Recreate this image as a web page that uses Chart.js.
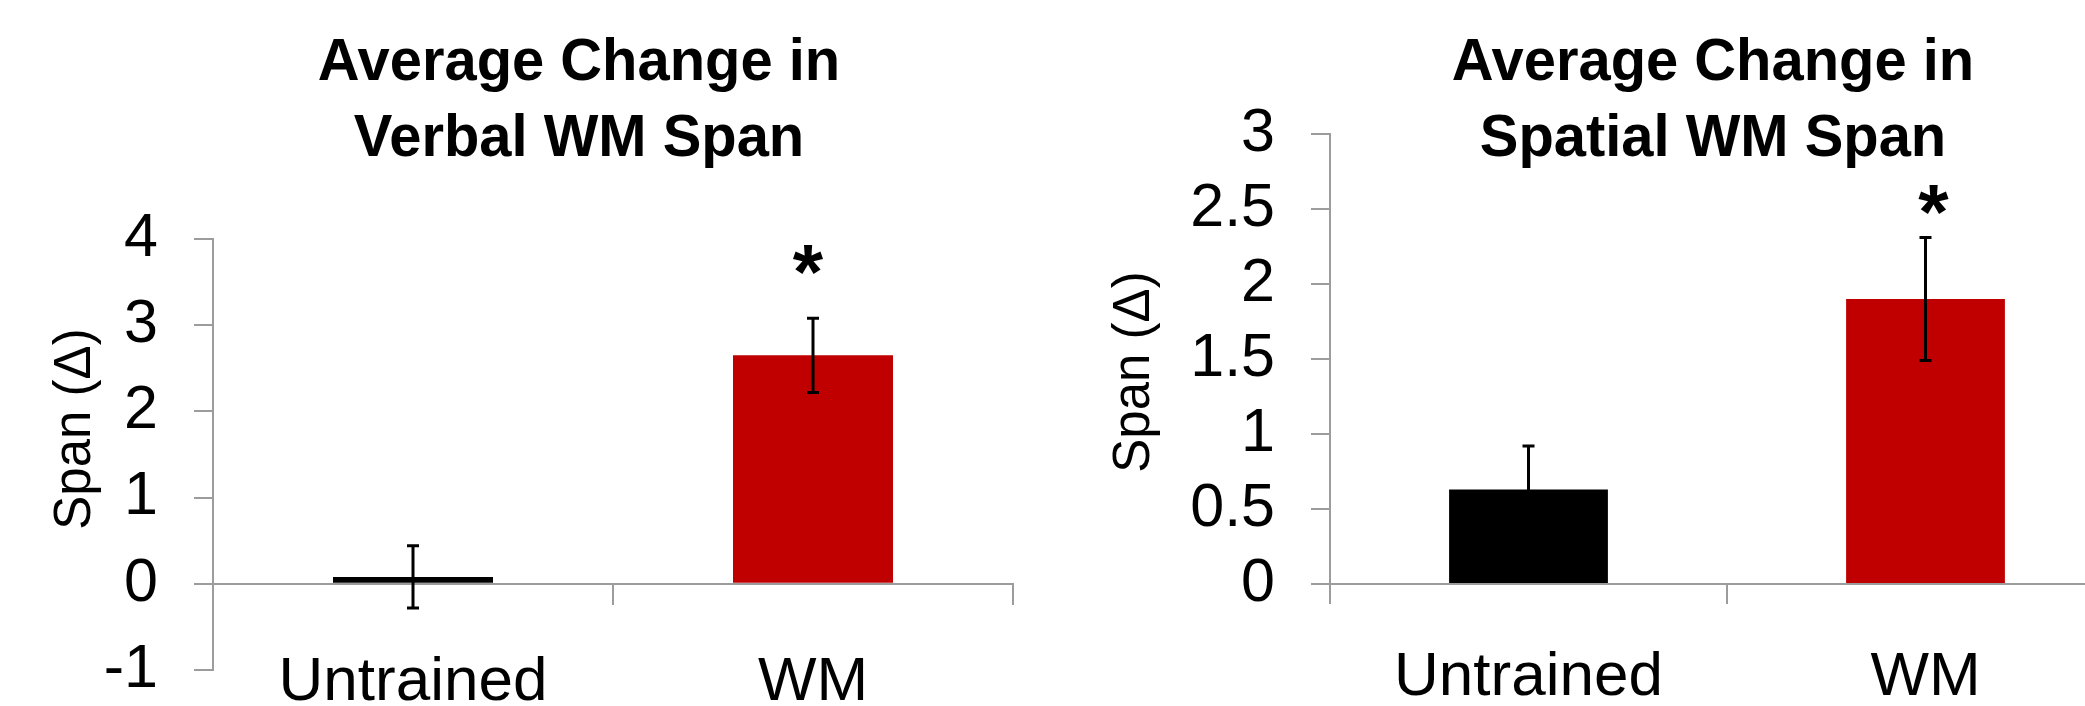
<!DOCTYPE html>
<html><head><meta charset="utf-8">
<script src="https://cdn.jsdelivr.net/npm/chart.js@4.4.1/dist/chart.umd.min.js"></script>
<style>
html,body{margin:0;padding:0;background:#fff;overflow:hidden;width:2085px;height:706px;}
#wrap{position:relative;width:2085px;height:706px;overflow:hidden;background:#fff;}
canvas{position:absolute;top:0;}
#c1{left:0;} #c2{left:1050px;}
</style></head><body>
<div id="wrap"><canvas id="c1" width="1050" height="706"></canvas><canvas id="c2" width="1100" height="706"></canvas></div>
<script>
// ---- data ----
const categories = ['Untrained', 'WM'];
const verbalMeans = [0.08, 2.65];
const verbalErrors = [0.36, 0.43];
const spatialMeans = [0.63, 1.90];
const spatialErrors = [0.29, 0.41];
const significance = ['', '*'];
const verbalTicks = [-1, 0, 1, 2, 3, 4];
const spatialTicks = [0, 0.5, 1, 1.5, 2, 2.5, 3];
const verbalTitle = ['Average Change in', 'Verbal WM Span'];
const spatialTitle = ['Average Change in', 'Spatial WM Span'];
const yAxisTitle = 'Span (\u0394)';

// ---- styles ----
const FONT = '"Liberation Sans", Arial, Helvetica, sans-serif';
const AXIS = '#9c9c9c';
const barColors = ['#000000', '#C00000'];

const annotPlugin = {
  id: 'annot',
  afterDatasetsDraw(chart, args, o) {
    const ctx = chart.ctx, meta = chart.getDatasetMeta(0), ys = chart.scales.y;
    ctx.save();
    ctx.strokeStyle = '#000';
    ctx.lineWidth = o.errWidth;
    meta.data.forEach((bar, i) => {
      const m = o.means[i], e = o.errors[i];
      const x = bar.x;
      const yt = ys.getPixelForValue(m + e), yb = ys.getPixelForValue(m - e);
      ctx.beginPath();
      ctx.moveTo(x, yt); ctx.lineTo(x, yb);
      ctx.moveTo(x - o.cap, yt); ctx.lineTo(x + o.cap, yt);
      ctx.moveTo(x - o.cap, yb); ctx.lineTo(x + o.cap, yb);
      ctx.stroke();
      if (o.marks[i]) {
        ctx.fillStyle = '#000';
        ctx.font = 'bold ' + o.starSize + 'px ' + FONT;
        ctx.textAlign = 'center';
        ctx.textBaseline = 'alphabetic';
        const mt = ctx.measureText(o.marks[i]);
        const cy = ys.getPixelForValue(o.starValue);
        ctx.fillText(o.marks[i], x + o.starDx, cy + (mt.actualBoundingBoxAscent - mt.actualBoundingBoxDescent) / 2);
      }
    });
    ctx.restore();
  },
  afterDraw(chart, args, o) {
    const ctx = chart.ctx;
    ctx.save();
    ctx.fillStyle = '#000';
    ctx.textAlign = 'center';
    ctx.textBaseline = 'alphabetic';
    ctx.font = 'bold ' + o.titleSize + 'px ' + FONT;
    o.title.forEach((t, i) => {
      ctx.save();
      ctx.translate(o.titleX, o.titleBase[i]);
      ctx.scale(o.titleScaleX, 1);
      ctx.fillText(t, 0, 0);
      ctx.restore();
    });
    ctx.translate(o.yTitleX, o.yTitleY);
    ctx.rotate(-Math.PI / 2);
    ctx.font = o.yTitleSize + 'px ' + FONT;
    ctx.textBaseline = 'middle';
    ctx.fillText(o.yTitle, 0, 0);
    ctx.restore();
  }
};

function gridOpts(len) {
  return { display: true, drawOnChartArea: false, drawTicks: true, tickLength: len, color: AXIS, lineWidth: 2 };
}
const tickFmt = v => String(v);

// ---- left chart: verbal ----
new Chart(document.getElementById('c1'), {
  type: 'bar',
  data: { labels: categories, datasets: [{ data: verbalMeans, backgroundColor: barColors, borderWidth: 0, barPercentage: 0.4, categoryPercentage: 1.0 }] },
  plugins: [annotPlugin],
  options: {
    responsive: false, animation: false, devicePixelRatio: 1,
    layout: { padding: { top: 239, right: 37, left: 0, bottom: 36 } },
    plugins: {
      legend: { display: false }, tooltip: { enabled: false }, title: { display: false },
      annot: { means: verbalMeans, errors: verbalErrors, marks: significance, errWidth: 3, cap: 6,
        starSize: 78, starDx: -5, starValue: 3.76,
        title: verbalTitle, titleSize: 60, titleScaleX: 0.965, titleX: 579, titleBase: [80, 156],
        yTitle: yAxisTitle, yTitleSize: 51, yTitleX: 76, yTitleY: 429 }
    },
    scales: {
      x: { type: 'category', position: { y: -1 }, offset: true,
        grid: { display: false }, border: { display: false },
        ticks: { padding: 0, color: '#000', font: { family: FONT, size: 62, lineHeight: '10px' }, maxRotation: 0, autoSkip: false },
        afterFit: s => { s.height = 0; } },
      x2: { type: 'category', position: { y: 0 }, offset: true,
        grid: Object.assign(gridOpts(20), { offset: true }), border: { display: true, color: AXIS, width: 2 },
        ticks: { display: false },
        afterFit: s => { s.height = 0; } },
      y: { type: 'linear', min: -1, max: 4,
        afterBuildTicks: s => { s.ticks = verbalTicks.map(v => ({ value: v })); },
        grid: gridOpts(19), border: { display: true, color: AXIS, width: 2 },
        ticks: { padding: 36, color: '#000', callback: tickFmt, font: { family: FONT, size: 61, lineHeight: 1 } },
        afterFit: s => { s.width = 213; s.paddingTop = 0; s.paddingBottom = 0; } }
    }
  }
});

// ---- right chart: spatial ----
new Chart(document.getElementById('c2'), {
  type: 'bar',
  data: { labels: categories, datasets: [{ data: spatialMeans, backgroundColor: barColors, borderWidth: 0, barPercentage: 0.4, categoryPercentage: 1.0 }] },
  plugins: [annotPlugin],
  options: {
    responsive: false, animation: false, devicePixelRatio: 1,
    layout: { padding: { top: 134, right: 26, left: 0, bottom: 0 } },
    plugins: {
      legend: { display: false }, tooltip: { enabled: false }, title: { display: false },
      annot: { means: spatialMeans, errors: spatialErrors, marks: significance, errWidth: 3, cap: 6,
        starSize: 78, starDx: 8, starValue: 2.56,
        title: spatialTitle, titleSize: 60, titleScaleX: 0.965, titleX: 663, titleBase: [80, 156],
        yTitle: yAxisTitle, yTitleSize: 51, yTitleX: 85, yTitleY: 372 }
    },
    scales: {
      x: { type: 'category', position: 'bottom', offset: true,
        grid: Object.assign(gridOpts(20), { offset: true }), border: { display: true, color: AXIS, width: 2 },
        ticks: { padding: 69, color: '#000', font: { family: FONT, size: 62, lineHeight: '10px' }, maxRotation: 0, autoSkip: false },
        afterFit: s => { s.height = 122; } },
      y: { type: 'linear', min: 0, max: 3,
        afterBuildTicks: s => { s.ticks = spatialTicks.map(v => ({ value: v })); },
        grid: gridOpts(19), border: { display: true, color: AXIS, width: 2 },
        ticks: { padding: 36, color: '#000', callback: tickFmt, font: { family: FONT, size: 61, lineHeight: 1 } },
        afterFit: s => { s.width = 280; s.paddingTop = 0; s.paddingBottom = 0; } }
    }
  }
});
</script>
</body></html>
